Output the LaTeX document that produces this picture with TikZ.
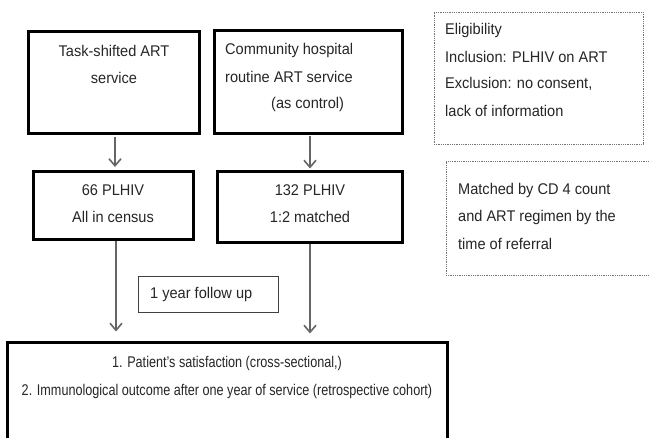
\documentclass[tikz,border=0pt]{standalone}
\usepackage{fontspec}
\setmainfont{Liberation Sans}
\usetikzlibrary{arrows.meta}
\begin{document}
\begin{tikzpicture}[x=1pt,y=-1pt,
  thickbox/.style={draw=black,line width=3pt,inner sep=0pt},
  thinbox/.style={draw=black!75,line width=0.9pt,inner sep=0pt},
  dotbox/.style={draw=black!55,line width=0.8pt,densely dotted,inner sep=0pt},
  txt/.style={inner sep=0pt,font=\fontsize{15.5}{17}\selectfont,text=black!85,xscale=0.94},
  btxt/.style={inner sep=0pt,font=\fontsize{15.5}{17}\selectfont,text=black!85,xscale=0.815},
  arr/.style={draw=black!60,line width=1.6pt,-{Straight Barb[length=7pt,width=12pt,line width=1.6pt]}},
  conn/.style={draw=black!60,line width=1.6pt}]
\useasboundingbox (0,0) rectangle (649,438);
\fill[white] (0,0) rectangle (649,438);
% boxes
\node[thickbox,minimum width=171pt,minimum height=102pt] (a) at (113.5,83) {};
\node[thickbox,minimum width=188pt,minimum height=103pt] (b) at (308,82.5) {};
\node[thickbox,minimum width=160pt,minimum height=68pt] (c) at (113,205.5) {};
\node[thickbox,minimum width=185pt,minimum height=71pt] (d) at (309.5,207.5) {};
\node[dotbox,minimum width=209pt,minimum height=132pt] (el) at (538.5,78) {};
\node[dotbox,minimum width=210pt,minimum height=114pt] (m) at (551,218) {};
\node[thinbox,minimum width=140pt,minimum height=36pt] (f) at (208,294) {};
\node[thickbox,minimum width=440pt,minimum height=110pt] (e) at (227,398) {};
% texts
\node[txt] (a1) at (114,51) {Task-shifted ART};
\node[txt] (a2) at (114,78) {service};
\node[txt,anchor=west] (b1) at (225,50) {Community hospital};
\node[txt,anchor=west] (b2) at (225,77) {routine ART service};
\node[txt,anchor=west] (b3) at (271,104) {(as control)};
\node[txt] (c1) at (113,190) {66 PLHIV};
\node[txt] (c2) at (113,217) {All in census};
\node[txt] (d1) at (310,190) {132 PLHIV};
\node[txt] (d2) at (310,217) {1:2 matched};
\node[txt,anchor=west] (e1) at (445,30) {Eligibility};
\node[txt,anchor=west] (e2) at (445,57) {Inclusion: PLHIV on ART};
\node[txt,anchor=west] (e3) at (445,84) {Exclusion: no consent,};
\node[txt,anchor=west] (e4) at (445,111) {lack of information};
\node[txt,anchor=west] (m1) at (458,190) {Matched by CD 4 count};
\node[txt,anchor=west] (m2) at (458,217) {and ART regimen by the};
\node[txt,anchor=west] (m3) at (458,244) {time of referral};
\node[txt,anchor=west] (f1) at (150,294) {1 year follow up};
\node[btxt] (o1) at (227,363) {1. Patient's satisfaction (cross-sectional,)};
\node[btxt] (o2) at (227,391) {2. Immunological outcome after one year of service (retrospective cohort)};
% connectors
\draw[arr,shorten <=2pt,shorten >=3pt] ([xshift=1.5pt]a.south) -- ([xshift=2pt]c.north);
\draw[arr,shorten <=1pt,shorten >=2pt] ([xshift=2pt]b.south) -- ([xshift=0.5pt]d.north);
\draw[arr,shorten <=0pt,shorten >=10pt] ([xshift=3pt]c.south) -- ([xshift=3pt]c.south |- e.north);
\draw[arr,shorten <=0pt,shorten >=8pt] ([xshift=0.5pt]d.south) -- ([xshift=0.5pt]d.south |- e.north);
\end{tikzpicture}
\end{document}
